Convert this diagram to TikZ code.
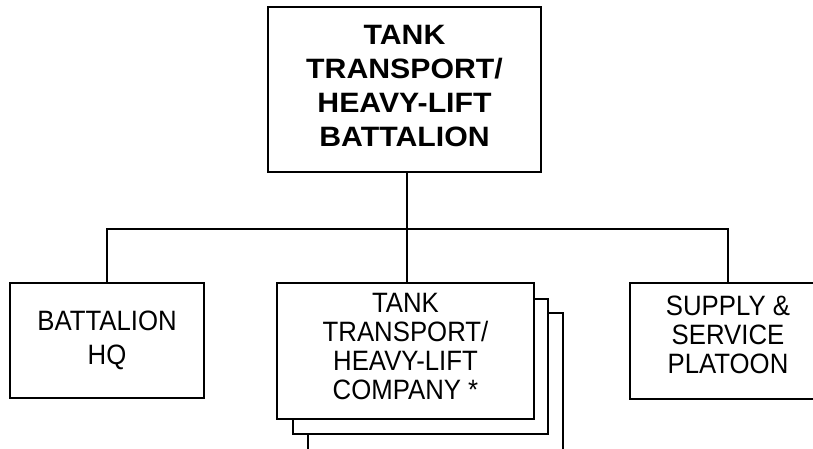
\documentclass[tikz,border=0pt]{standalone}
\usepackage{fontspec}
\setmainfont{Liberation Sans}
\newfontfamily\regfont[FakeStretch=0.92]{Liberation Sans}
\newfontfamily\boldfont[FakeStretch=1.08]{Liberation Sans}
\usetikzlibrary{calc}
\tikzset{
  unitbox/.style={draw=black, line width=1.4pt, fill=white, inner sep=0pt, align=center},
  hq/.style={unitbox, font=\boldfont\fontsize{28}{34}\selectfont\bfseries},
  sub/.style={unitbox, font=\regfont\fontsize{28}{34}\selectfont},
  subtight/.style={unitbox, font=\regfont\fontsize{28}{29}\selectfont},
  wire/.style={line width=1.4pt}
}
\begin{document}
\begin{tikzpicture}[x=1pt,y=-1pt]
\useasboundingbox (0,0) rectangle (813,449);
\clip (0,0) rectangle (813,449);
\fill[white] (0,0) rectangle (813,449);

\node[hq, minimum width=273, minimum height=165, text depth=7pt] (top) at (404.5,89.5) {TANK\\TRANSPORT/\\HEAVY-LIFT\\BATTALION};

\node[sub, minimum width=194, minimum height=115] (bhq) at (107,340.5) {BATTALION\\HQ};

% stacked company boxes (back copies)
\coordinate (mnw) at (277,283);
\coordinate (mse) at (534,419);
\draw[wire, fill=white] ($(mnw)+(31,30)$) rectangle ($(mse)+(29,60)$);
\draw[wire, fill=white] ($(mnw)+(16,16)$) rectangle ($(mse)+(14,15)$);
\node[subtight, minimum width=257, minimum height=136, text depth=9pt] (co) at (405.5,351) {TANK\\TRANSPORT/\\HEAVY-LIFT\\COMPANY *};

\node[subtight, minimum width=196, minimum height=116, text depth=13pt] (sup) at (728,341) {SUPPLY \&\\SERVICE\\PLATOON};

\coordinate (bus) at (407,229);
\draw[wire] (bus |- top.south) -- (bus);
\draw[wire] (bhq.north) |- (bus) -| (sup.north);
\draw[wire] (bus) -- (bus |- co.north);
\end{tikzpicture}
\end{document}
